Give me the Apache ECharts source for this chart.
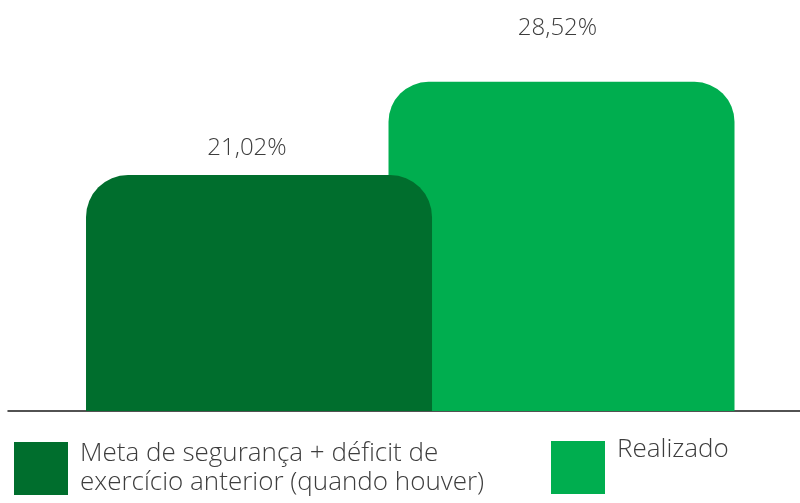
<!DOCTYPE html>
<html>
<head>
<meta charset="utf-8">
<script src="https://cdn.jsdelivr.net/npm/echarts@6/dist/echarts.min.js"></script>
<style>
  html, body { margin: 0; padding: 0; background: #fff; }
  #chart { width: 800px; height: 503px; }
</style>
</head>
<body>
<div id="chart"></div>
<script>
// bar positions on the x axis: 0 = Meta, 1 = Realizado
const positions = [0, 1];
const seriesNames = ['Meta de segurança + déficit de\nexercício anterior (quando houver)', 'Realizado'];
const metaValues = [21.02];
const realizadoValues = [28.52];

const FONT = '"Open Sans", "Noto Sans", sans-serif';
const DARK = '#006e2d';
const LIGHT = '#00ae4f';
const TEXT = '#3d3d3d';

const chart = echarts.init(document.getElementById('chart'), null, { renderer: 'canvas' });

const fmt = p => p.value[1].toFixed(2).replace('.', ',') + '%';
const legendRich = (lh) => ({
  t: { fontFamily: FONT, fontWeight: 300, fontSize: 26, lineHeight: lh, color: TEXT, padding: [0, 0, 0, 7] }
});
const wrap = name => name.split('\n').map(s => '{t|' + s + '}').join('\n');

chart.setOption({
  animation: false,
  grid: { left: 8, right: 0, top: 63.5, bottom: 92 },
  xAxis: {
    type: 'value', min: -0.8298, max: 1.7884,
    axisLine: { show: true, onZero: false, lineStyle: { color: '#1a1a1a', width: 1.5 } },
    axisTick: { show: false }, axisLabel: { show: false }, splitLine: { show: false }
  },
  yAxis: { type: 'value', min: 2, max: 30, show: false },
  legend: [
    {
      left: 14, top: 441, padding: 0,
      itemWidth: 54, itemHeight: 53,
      icon: 'rect', selectedMode: false,
      data: [seriesNames[0]],
      formatter: wrap,
      textStyle: { rich: legendRich(29) }
    },
    {
      left: 551, top: 437, padding: 0,
      itemWidth: 54, itemHeight: 53,
      icon: 'rect', selectedMode: false,
      data: [seriesNames[1]],
      formatter: name => wrap(name) + '\n{t| }',
      textStyle: { rich: legendRich(35) }
    }
  ],
  series: [
    {
      name: seriesNames[0], type: 'bar',
      data: metaValues.map(v => [positions[0], v]),
      barWidth: 346, barGap: '-100%', z: 3,
      itemStyle: { color: DARK, borderRadius: [42, 42, 0, 0] },
      label: {
        show: true, position: 'top', distance: 15, offset: [-12, 0],
        formatter: fmt, fontFamily: FONT, fontWeight: 300, fontSize: 24, color: TEXT
      }
    },
    {
      name: seriesNames[1], type: 'bar',
      data: realizadoValues.map(v => [positions[1], v]),
      barWidth: 346, barGap: '-100%', z: 2,
      itemStyle: { color: LIGHT, borderRadius: [40, 40, 0, 0] },
      label: {
        show: true, position: 'top', distance: 42, offset: [-4, 0],
        formatter: fmt, fontFamily: FONT, fontWeight: 300, fontSize: 24, color: TEXT
      }
    }
  ]
});
</script>
</body>
</html>
